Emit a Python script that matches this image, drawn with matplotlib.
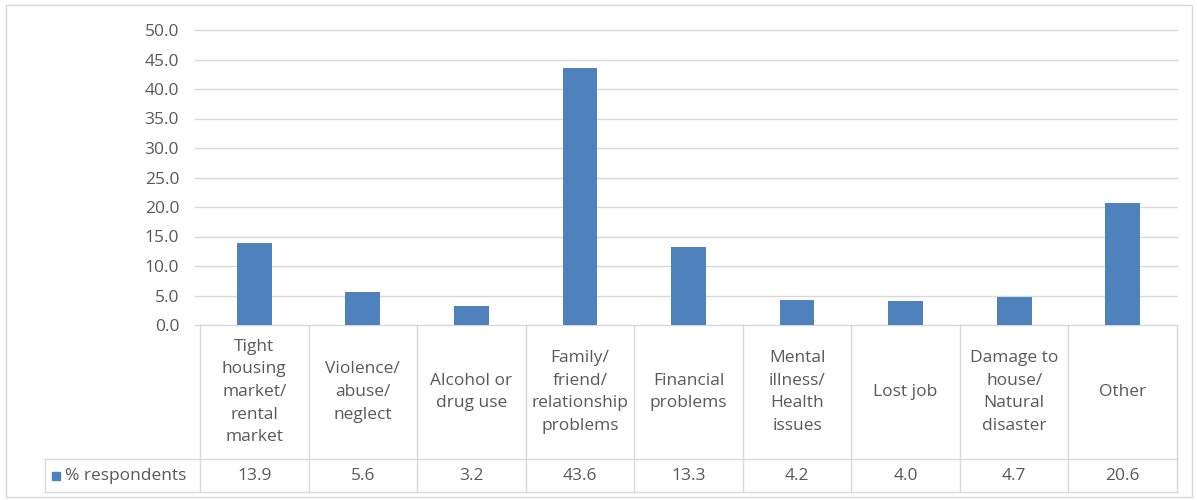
import matplotlib.pyplot as plt
from matplotlib.patches import Rectangle

categories = [
    "Tight\nhousing\nmarket/\nrental\nmarket",
    "Violence/\nabuse/\nneglect",
    "Alcohol or\ndrug use",
    "Family/\nfriend/\nrelationship\nproblems",
    "Financial\nproblems",
    "Mental\nillness/\nHealth\nissues",
    "Lost job",
    "Damage to\nhouse/\nNatural\ndisaster",
    "Other",
]
pct = [13.9, 5.6, 3.2, 43.6, 13.3, 4.2, 4.0, 4.7, 20.6]
series_name = "% respondents"
yticks = [0, 5, 10, 15, 20, 25, 30, 35, 40, 45, 50]

W, H = 1197, 500
bar_col = "#4F81BD"
txt_col = "#595959"
grid_col = "#D9D9D9"
fs = 12.5
plt.rcParams['font.family'] = ['Open Sans', 'DejaVu Sans']

fig = plt.figure(figsize=(W / 100, H / 100), dpi=100)

# pixel layout of the chart area
px_l, px_r = 200, 1177
py_top, py_zero = 30, 325
py_mid, py_bot = 459, 492

ax = fig.add_axes([px_l / W, 1 - py_zero / H, (px_r - px_l) / W, (py_zero - py_top) / H])
x = list(range(len(pct)))
ax.bar(x, pct, width=0.32, color=bar_col, zorder=3)
ax.set_xlim(-0.5, len(pct) - 0.5)
ax.set_ylim(0, 50)
ax.set_yticks(yticks)
ax.set_yticklabels([f"{v:.1f}" for v in yticks])
ax.set_xticks([])
ax.tick_params(axis='y', length=0, pad=15, labelsize=fs, labelcolor=txt_col)
for v in yticks:
    ax.plot([-0.55, len(pct) - 0.5], [v, v], color=grid_col, lw=1, zorder=1, clip_on=False)
for s in ax.spines.values():
    s.set_visible(False)

# data table under the bars
tb = fig.add_axes([px_l / W, 1 - py_bot / H, (px_r - px_l) / W, (py_bot - py_zero) / H])
tb.set_xlim(-0.5, len(pct) - 0.5)
tb.set_ylim(py_bot, py_zero)
tb.axis('off')
col_w = (px_r - px_l) / len(pct)
leg_l = -0.5 - (px_l - 45) / col_w
line_kw = dict(color=grid_col, lw=1, clip_on=False)
for k in range(len(pct) + 1):
    tb.plot([k - 0.5, k - 0.5], [py_zero, py_bot], **line_kw)
tb.plot([leg_l, len(pct) - 0.5], [py_mid, py_mid], **line_kw)
tb.plot([leg_l, len(pct) - 0.5], [py_bot, py_bot], **line_kw)
tb.plot([leg_l, leg_l], [py_mid, py_bot], **line_kw)

for i, (c, v) in enumerate(zip(categories, pct)):
    tb.text(i, (py_zero + py_mid) / 2, c, ha='center', va='center', fontsize=fs,
            color=txt_col, linespacing=1.55)
    tb.text(i, (py_mid + py_bot) / 2, f"{v:.1f}", ha='center', va='center',
            fontsize=fs, color=txt_col)

# legend key inside the table
key_x = leg_l + (52 - 45) / col_w
tb.add_patch(Rectangle((key_x, (py_mid + py_bot) / 2 - 4), 8 / col_w, 8,
                       color=bar_col, clip_on=False))
tb.text(key_x + 13 / col_w, (py_mid + py_bot) / 2, series_name, ha='left', va='center',
        fontsize=fs, color=txt_col)

# outer chart border
fig.patches.append(Rectangle((6 / W, 1 - 497 / H), 1186 / W, 492 / H, transform=fig.transFigure,
                             fill=False, edgecolor=grid_col, lw=1))

fig.savefig("out.png", dpi=100)
